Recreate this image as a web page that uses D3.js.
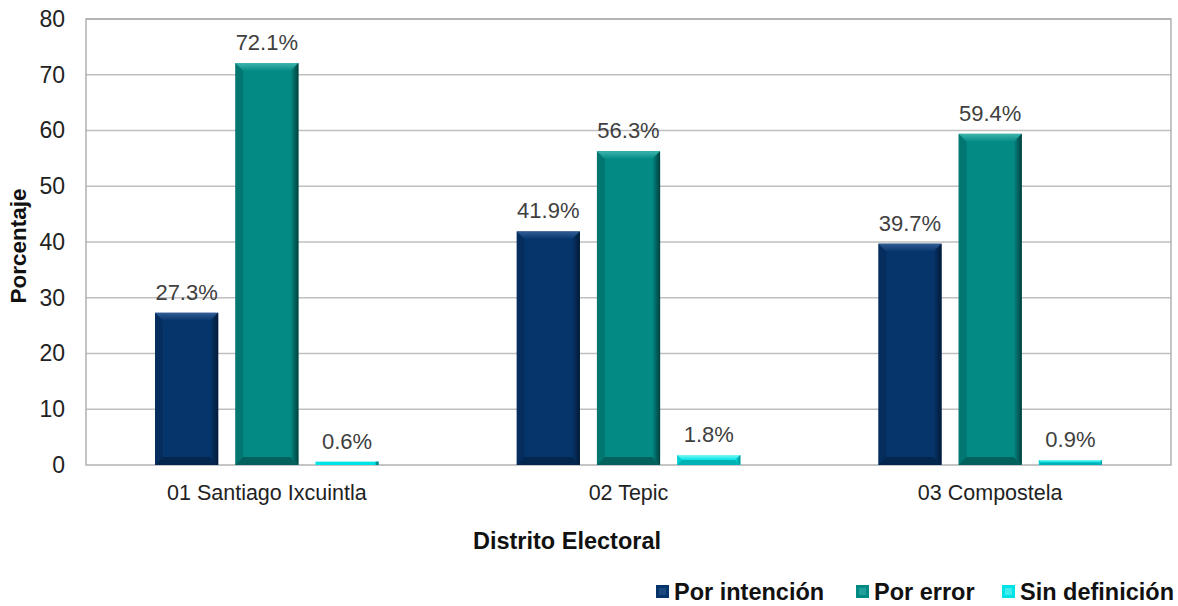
<!DOCTYPE html>
<html><head><meta charset="utf-8">
<script src="https://cdn.jsdelivr.net/npm/d3@7"></script>
<style>body{margin:0;background:#fff;}svg{display:block;font-family:"Liberation Sans",Arial,sans-serif;}</style>
</head><body>
<svg id="c" width="1178" height="606"></svg>
<script>
const categories = ["01 Santiago Ixcuintla","02 Tepic","03 Compostela"];
const seriesNames = ["Por intención","Por error","Sin definición"];
const porIntencion = [27.3, 41.9, 39.7];
const porError = [72.1, 56.3, 59.4];
const sinDefinicion = [0.6, 1.8, 0.9];
const yTicks = [0,10,20,30,40,50,60,70,80];
const colors = ["#06356b","#038a84","#00e3e6"];
const lightC = ["#2f5c94","#3db5ae","#80f6f6"];
const darkC = ["#021a36","#013f3c","#008a8c"];

const series = [porIntencion, porError, sinDefinicion];
const svg = d3.select("#c");
const L=86,R=1171,T=19,B=465;
const x0 = d3.scaleBand().domain(categories).range([L,R]).paddingInner(0).paddingOuter(0);
const x1 = d3.scaleBand().domain(seriesNames).range([0,x0.bandwidth()]).paddingInner(0.2125).paddingOuter(0.86);
const y = d3.scaleLinear().domain([0,80]).range([B,T]);

const defs = svg.append("defs");
colors.forEach((c,j)=>{
  const gr = defs.append("linearGradient").attr("id","rg"+j).attr("x1",0).attr("x2",1).attr("y1",0).attr("y2",0);
  gr.append("stop").attr("offset","0%").attr("stop-color",colors[j]);
  gr.append("stop").attr("offset","100%").attr("stop-color",darkC[j]);
  const gt = defs.append("linearGradient").attr("id","tg"+j).attr("x1",0).attr("x2",0).attr("y1",0).attr("y2",1);
  gt.append("stop").attr("offset","0%").attr("stop-color",lightC[j]);
  gt.append("stop").attr("offset","100%").attr("stop-color",colors[j]);
});

// gridlines
svg.append("g").selectAll("line").data(yTicks.filter(d=>d>0)).join("line")
  .attr("x1",L).attr("x2",R).attr("y1",d=>y(d)).attr("y2",d=>y(d))
  .attr("stroke","#bfbfbf").attr("stroke-width",1.3);
// frame
svg.append("rect").attr("x",L).attr("y",T).attr("width",R-L).attr("height",B-T)
  .attr("fill","none").attr("stroke","#a6a6a6").attr("stroke-width",1.3);

// y axis
const ya = svg.append("g").attr("transform",`translate(${L},0)`)
  .call(d3.axisLeft(y).tickValues(yTicks).tickSize(0).tickPadding(21));
ya.select(".domain").remove();
ya.selectAll("text").attr("font-size",23).attr("fill","#222").attr("font-family","Liberation Sans, Arial");

// x axis labels
const xa = svg.append("g").attr("transform",`translate(0,${B})`)
  .call(d3.axisBottom(x0).tickSize(0).tickPadding(20));
xa.select(".domain").remove();
xa.selectAll("text").attr("font-size",21.5).attr("fill","#222").attr("font-family","Liberation Sans, Arial");

// bars
const data = [];
categories.forEach((c,i)=>seriesNames.forEach((s,j)=>data.push({c,s,j,v:series[j][i]})));
const g = svg.append("g");
data.forEach(d=>{
  const bx = x0(d.c)+x1(d.s), bw = x1.bandwidth();
  const by = y(d.v), bh = y(0)-y(d.v);
  const e = Math.min(8, bh/2, bw/2);
  const bg = g.append("g");
  bg.append("rect").attr("x",bx).attr("y",by).attr("width",bw).attr("height",bh).attr("fill",colors[d.j]);
  if (bh>4){
    bg.append("polygon").attr("points",[[bx,by],[bx+bw,by],[bx+bw-e,by+e],[bx+e,by+e]].join(" ")).attr("fill",`url(#tg${d.j})`);
    bg.append("polygon").attr("points",[[bx,by+bh],[bx+bw,by+bh],[bx+bw-e,by+bh-e],[bx+e,by+bh-e]].join(" ")).attr("fill",darkC[d.j]).attr("opacity",0.55);
    bg.append("polygon").attr("points",[[bx+bw,by],[bx+bw,by+bh],[bx+bw-e,by+bh-e],[bx+bw-e,by+e]].join(" ")).attr("fill",`url(#rg${d.j})`);
    bg.append("polygon").attr("points",[[bx,by],[bx,by+bh],[bx+e,by+bh-e],[bx+e,by+e]].join(" ")).attr("fill",darkC[d.j]).attr("opacity",0.25);
  } else {
    bg.append("rect").attr("x",bx+bw-3).attr("y",by).attr("width",3).attr("height",bh).attr("fill",darkC[d.j]);
  }
  g.append("text").attr("x",bx+bw/2).attr("y",by-13).attr("text-anchor","middle")
    .attr("font-size",22).attr("fill","#404040").text(d.v.toFixed(1)+"%");
});

// axis titles
svg.append("text").attr("transform",`translate(26,${(T+B)/2+4}) rotate(-90)`).attr("text-anchor","middle")
  .attr("font-size",22.5).attr("font-weight","bold").attr("fill","#111").text("Porcentaje");
svg.append("text").attr("x",567).attr("y",549).attr("text-anchor","middle")
  .attr("font-size",23.5).attr("font-weight","bold").attr("fill","#111").text("Distrito Electoral");

// legend
const legX = [656, 856, 1002];
const lg = svg.append("g");
seriesNames.forEach((s,j)=>{
  const lx = legX[j], ly = 585;
  lg.append("rect").attr("x",lx).attr("y",ly).attr("width",13).attr("height",13).attr("fill",colors[j]);
  lg.append("rect").attr("x",lx+3).attr("y",ly+3).attr("width",7).attr("height",7).attr("fill",lightC[j]).attr("opacity",0.5);
  lg.append("text").attr("x",lx+18).attr("y",ly+15).attr("font-size",23.5).attr("font-weight","bold").attr("fill","#111").text(s);
});
</script>
</body></html>
